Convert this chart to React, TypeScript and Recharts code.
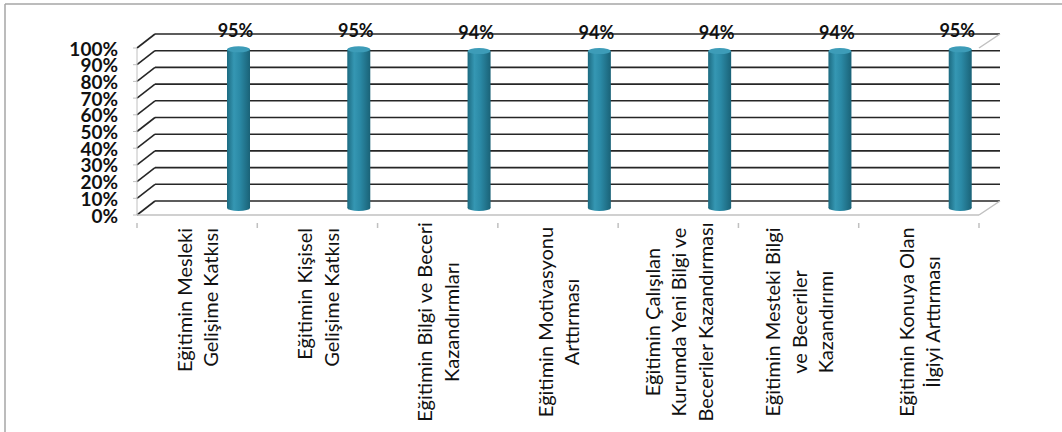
import React from "react";
import { BarChart, Bar, XAxis, YAxis, CartesianGrid, LabelList } from "recharts";

// Eğitimin katkıları (yüzde)
const categories = [
  "Eğitimin Mesleki\nGelişime Katkısı",
  "Eğitimin Kişisel\nGelişime Katkısı",
  "Eğitimin Bilgi ve Beceri\nKazandırmları",
  "Eğitimin Motivasyonu\nArttırması",
  "Eğitimin Çalışılan\nKurumda Yeni Bilgi ve\nBeceriler Kazandırması",
  "Eğitimin Mesteki Bilgi\nve Beceriler\nKazandırımı",
  "Eğitimin Konuya Olan\nİlgiyi Arttırması",
];
const values = [95, 95, 94, 94, 94, 94, 95];
const yTicks = [0, 10, 20, 30, 40, 50, 60, 70, 80, 90, 100];

const data = categories.map((name, i) => ({ name, value: values[i] }));

const FONT = "Lato, 'Open Sans', sans-serif";
// 3D derinlik kayması (ön düzlem -> arka duvar)
const DEPTH_L = 18;
const DEPTH_R = 21;
const DEPTH_Y = -14;
// silindirler orta derinlikte ve sağa kaymış
const BAR_DX = 41;
const BAR_DY = -7;

const gridLine = (props: any) => {
  const { x1, x2, y1, index } = props;
  const isFloor = index === yTicks.length - 1 || Math.abs(y1 - 215) < 1;
  return (
    <g key={`g-${y1}`}>
      <line x1={x1 + DEPTH_L} y1={y1 + DEPTH_Y} x2={x2 + DEPTH_R} y2={y1 + DEPTH_Y} stroke="#262626" strokeWidth={1.6} />
      <line x1={x1} y1={y1} x2={x1 + DEPTH_L} y2={y1 + DEPTH_Y} stroke="#262626" strokeWidth={1.6} />
      {isFloor && (
        <line x1={x2} y1={y1} x2={x2 + DEPTH_R} y2={y1 + DEPTH_Y} stroke="#c0c0c0" strokeWidth={1.5} />
      )}
    </g>
  );
};

const Cylinder = (props: any) => {
  const { x, y, width, height } = props;
  const cx = x + width / 2 + BAR_DX;
  const left = cx - width / 2;
  const top = y + BAR_DY;
  const bottom = y + height + BAR_DY;
  const ry = 3;
  return (
    <g>
      <rect x={left} y={top} width={width} height={bottom - top} fill="url(#cylBody)" />
      <ellipse cx={cx} cy={bottom} rx={width / 2} ry={ry} fill="url(#cylBody)" />
      <ellipse cx={cx} cy={top} rx={width / 2} ry={ry} fill="#3d9cb8" />
    </g>
  );
};

const ValueLabel = (props: any) => {
  const { x, y, width, value } = props;
  const cx = x + width / 2 + BAR_DX - 3;
  return (
    <text x={cx} y={y - 26} textAnchor="middle" dominantBaseline="central" fontFamily={FONT} fontWeight={700} fontSize={18} fill="#111">
      {`${value}%`}
    </text>
  );
};

const CategoryTick = (props: any) => {
  const { x, y, payload, index } = props;
  const half = payload && payload.offset ? payload.offset : 60.15;
  const lines: string[] = String(payload.value).split("\n");
  const longest = Math.max(...lines.map((l) => l.length));
  const topAligned = longest < 18;
  const step = 26.7;
  return (
    <g>
      <line x1={x - half} y1={y} x2={x - half} y2={y + 5} stroke="#c0c0c0" strokeWidth={1.5} />
      {index === categories.length - 1 && (
        <line x1={x + half} y1={y} x2={x + half} y2={y + 5} stroke="#c0c0c0" strokeWidth={1.5} />
      )}
      {lines.map((line, i) => {
        const lx = x + (i - (lines.length - 1) / 2) * step;
        const ly = topAligned ? 228 : 322;
        return (
          <text
            key={i}
            x={lx}
            y={ly}
            transform={`rotate(-90, ${lx}, ${ly})`}
            textAnchor={topAligned ? "end" : "middle"}
            dominantBaseline="central"
            fontFamily={FONT}
            fontSize={20}
            fill="#111"
          >
            {line}
          </text>
        );
      })}
    </g>
  );
};

const PercentTick = (props: any) => {
  const { y, payload } = props;
  return (
    <text x={118} y={y} textAnchor="end" dominantBaseline="central" fontFamily={FONT} fontWeight={700} fontSize={19} fill="#111">
      {`${payload.value}%`}
    </text>
  );
};

export default function App() {
  return (
    <div style={{ position: "absolute", left: 0, top: 0, width: 1062, height: 432, background: "#fff" }}>
      <svg width={1062} height={432} style={{ position: "absolute", left: 0, top: 0 }}>
        <line x1={5} y1={4} x2={1062} y2={4} stroke="#a6a6a6" strokeWidth={1.5} />
        <line x1={5} y1={4} x2={5} y2={432} stroke="#a6a6a6" strokeWidth={1.5} />
      </svg>
      <div style={{ position: "absolute", left: 0, top: 0 }}>
        <BarChart width={1062} height={432} data={data} margin={{ top: 48, right: 83, left: 77, bottom: 17 }}>
          <defs>
            <linearGradient id="cylBody" x1="0" y1="0" x2="1" y2="0">
              <stop offset="0%" stopColor="#1c6a80" />
              <stop offset="30%" stopColor="#3597b3" />
              <stop offset="55%" stopColor="#2b8aa6" />
              <stop offset="100%" stopColor="#1a6277" />
            </linearGradient>
          </defs>
          <CartesianGrid vertical={false} horizontal={gridLine} />
          <YAxis
            type="number"
            domain={[0, 100]}
            ticks={yTicks}
            interval={0}
            width={60}
            tick={<PercentTick />}
            tickSize={4}
            axisLine={{ stroke: "#c0c0c0" }}
            tickLine={{ stroke: "#c0c0c0" }}
          />
          <XAxis
            dataKey="name"
            interval={0}
            height={200}
            tick={<CategoryTick />}
            tickLine={false}
            axisLine={{ stroke: "#c0c0c0", strokeWidth: 1.5 }}
          />
          <Bar dataKey="value" barSize={23} shape={<Cylinder />} isAnimationActive={false}>
            <LabelList dataKey="value" content={<ValueLabel />} />
          </Bar>
        </BarChart>
      </div>
    </div>
  );
}
